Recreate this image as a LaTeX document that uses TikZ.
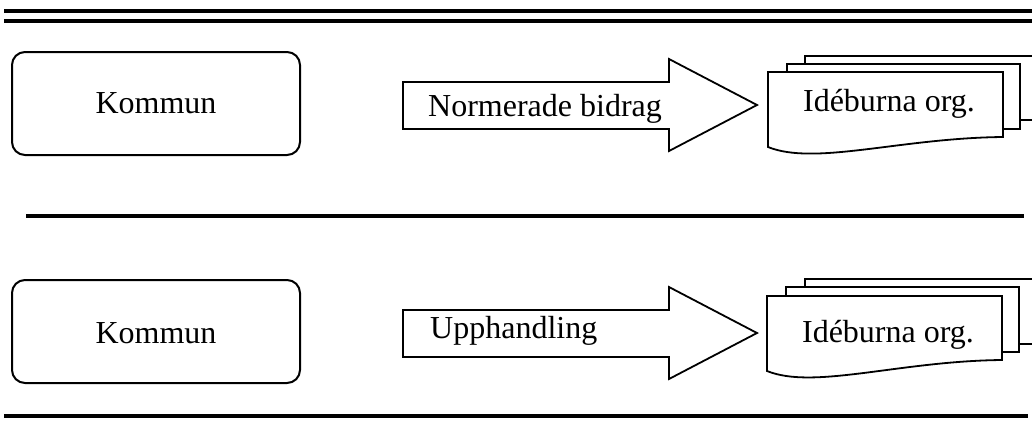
\documentclass[tikz,border=0pt]{standalone}
\usepackage{fontspec}
\setmainfont{Liberation Serif}
\begin{document}
\begin{tikzpicture}[x=1pt,y=-1pt,
  rule/.style={line width=3.5pt},
  kbox/.style={draw,line width=2pt,rounded corners=13pt,fill=white},
  shp/.style={draw,line width=1.8pt,fill=white,line join=miter},
  lbl/.style={font=\fontsize{32}{37}\selectfont,inner sep=0pt}]
\useasboundingbox (0,0) rectangle (1032,421);
% rules
\draw[rule] (4,11) -- (1032,11);
\draw[rule] (4,21) -- (1032,21);
\draw[rule] (26,216) -- (1024,216);
\draw[rule] (4,416) -- (1028,416);
% ---- row 1 ----
\draw[kbox] (12,52) rectangle (300,155);
\node[lbl] (k1) at (156,103) {Kommun};
\draw[shp] (403,82) -- (669,82) -- (669,59) -- (757,105) -- (669,151) -- (669,129) -- (403,129) -- cycle;
\node[lbl,anchor=west] (a1) at (428,109) {Normerade bidrag};
\draw[shp] (805,56) -- (1040,56) -- (1040,120) -- (805,120) -- cycle;
\draw[shp] (787,64) rectangle (1020,129);
\draw[shp] (768,72) -- (1003,72) -- (1003,137) .. controls (900,138) and (815,166) .. (768,147) -- cycle;
\node[lbl] (d1) at (889,104) {Idéburna org.};
% ---- row 2 ----
\draw[kbox] (12,280) rectangle (300,383);
\node[lbl] (k2) at (156,333) {Kommun};
\draw[shp] (403,310) -- (669,310) -- (669,287) -- (757,333) -- (669,379) -- (669,357) -- (403,357) -- cycle;
\node[lbl,anchor=west] (a2) at (430,331) {Upphandling};
\draw[shp] (805,279) -- (1040,279) -- (1040,344) -- (805,344) -- cycle;
\draw[shp] (786,287) rectangle (1019,352);
\draw[shp] (767,296) -- (1002,296) -- (1002,360) .. controls (899,361) and (814,390) .. (767,371) -- cycle;
\node[lbl] (d2) at (888,335) {Idéburna org.};
\end{tikzpicture}
\end{document}
